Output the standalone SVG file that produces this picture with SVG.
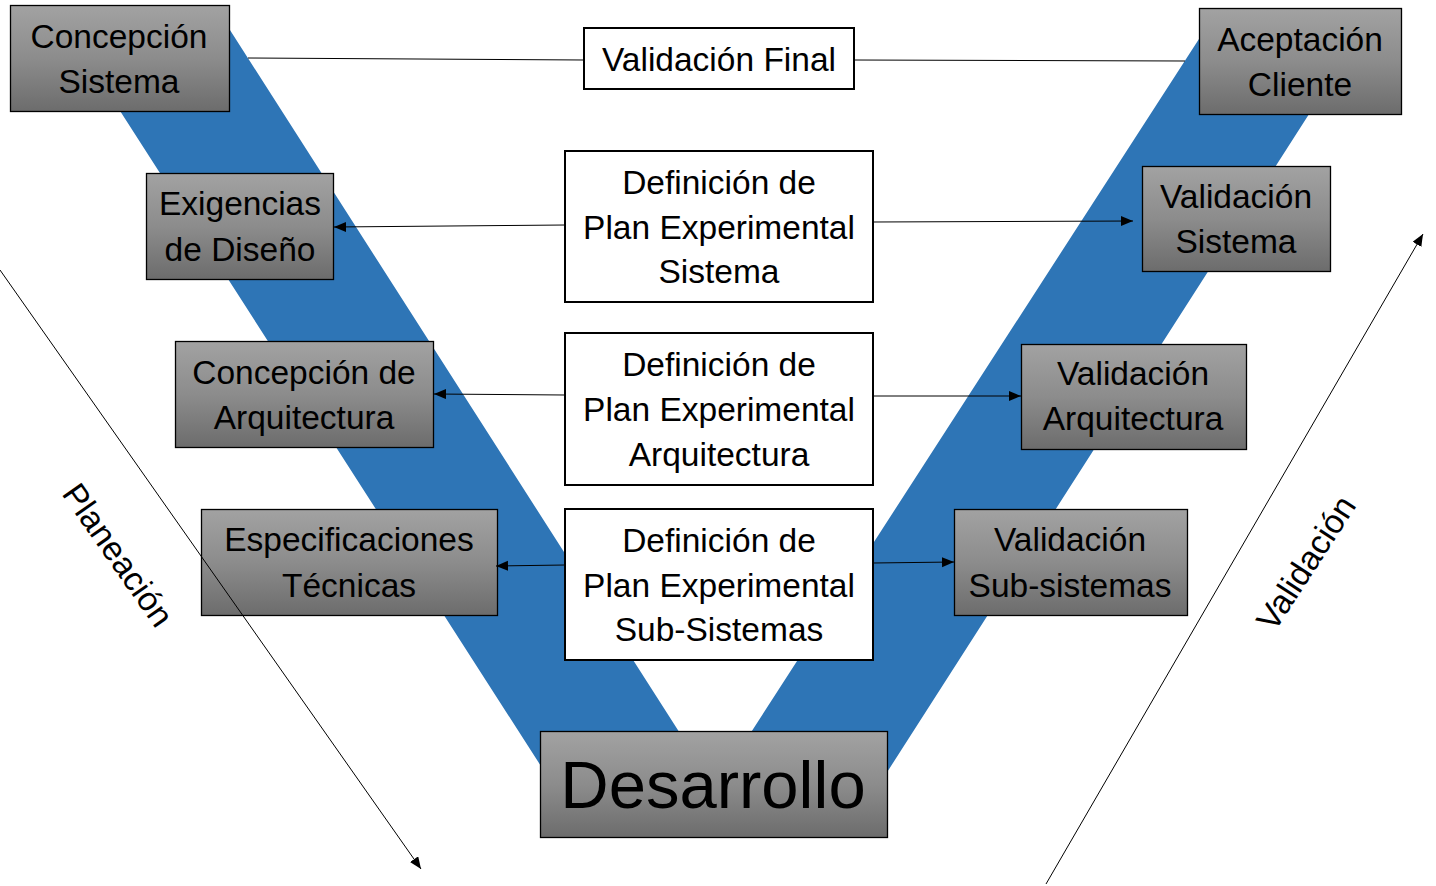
<svg xmlns="http://www.w3.org/2000/svg" width="1436" height="886" viewBox="0 0 1436 886">
<defs>
<linearGradient id="gray" x1="0" y1="0" x2="0" y2="1">
<stop offset="0" stop-color="#a2a2a2"/>
<stop offset="0.5" stop-color="#8c8c8c"/>
<stop offset="1" stop-color="#6c6c6c"/>
</linearGradient>
<marker id="arr" markerUnits="userSpaceOnUse" markerWidth="13" markerHeight="11" refX="12" refY="5" orient="auto">
<path d="M0,0 L12,5 L0,10 z" fill="#000"/>
</marker>
<style>
.g{fill:url(#gray);stroke:#000;stroke-width:1.3}
.w{fill:#fff;stroke:#000;stroke-width:2}
.t{font-family:"Liberation Sans",Arial,sans-serif;font-size:33.5px;fill:#000;text-anchor:middle}
.big{font-family:"Liberation Sans",Arial,sans-serif;font-size:67px;fill:#000;text-anchor:middle}
.ln{stroke:#000;stroke-width:1;fill:none}
.la{stroke:#000;stroke-width:1;fill:none;marker-end:url(#arr)}
</style>
</defs>
<rect width="1436" height="886" fill="#fff"/>
<polygon id="v-band" points="52,5 214,5 715,788 1219,8 1377,8 850,830 582,830" fill="#2e75b6"/>
<g id="n1"><rect class="g" x="10.5" y="5.5" width="219" height="106"/><text class="t" x="119" y="48">Concepción</text><text class="t" x="119" y="93">Sistema</text></g>
<g id="n2"><rect class="g" x="146.5" y="173.5" width="187" height="106"/><text class="t" x="240" y="215">Exigencias</text><text class="t" x="240" y="261">de Diseño</text></g>
<g id="n3"><rect class="g" x="175.5" y="341.5" width="258" height="106"/><text class="t" x="304" y="384">Concepción de</text><text class="t" x="304" y="429">Arquitectura</text></g>
<g id="n4"><rect class="g" x="201.5" y="509.5" width="296" height="106"/><text class="t" x="349" y="551">Especificaciones</text><text class="t" x="349" y="597">Técnicas</text></g>
<g id="n5"><rect class="g" x="540.5" y="731.5" width="347" height="106"/><text class="big" x="713" y="808">Desarrollo</text></g>
<g id="n6"><rect class="w" x="584" y="28" width="270" height="61"/><text class="t" x="719" y="71">Validación Final</text></g>
<g id="n7"><rect class="w" x="565" y="151" width="308" height="151"/><text class="t" x="719" y="194">Definición de</text><text class="t" x="719" y="239">Plan Experimental</text><text class="t" x="719" y="283">Sistema</text></g>
<g id="n8"><rect class="w" x="565" y="333" width="308" height="152"/><text class="t" x="719" y="376">Definición de</text><text class="t" x="719" y="421">Plan Experimental</text><text class="t" x="719" y="466">Arquitectura</text></g>
<g id="n9"><rect class="w" x="565" y="509" width="308" height="151"/><text class="t" x="719" y="552">Definición de</text><text class="t" x="719" y="597">Plan Experimental</text><text class="t" x="719" y="641">Sub-Sistemas</text></g>
<g id="n10"><rect class="g" x="1199.5" y="8.5" width="202" height="106"/><text class="t" x="1300" y="51">Aceptación</text><text class="t" x="1300" y="96">Cliente</text></g>
<g id="n11"><rect class="g" x="1142.5" y="166.5" width="188" height="105"/><text class="t" x="1236" y="208">Validación</text><text class="t" x="1236" y="253">Sistema</text></g>
<g id="n12"><rect class="g" x="1021.5" y="344.5" width="225" height="105"/><text class="t" x="1133" y="385">Validación</text><text class="t" x="1133" y="430">Arquitectura</text></g>
<g id="n13"><rect class="g" x="954.5" y="509.5" width="233" height="106"/><text class="t" x="1070" y="551">Validación</text><text class="t" x="1070" y="597">Sub-sistemas</text></g>
<g id="lbl-planeacion"><text class="t" x="118" y="555" dominant-baseline="central" transform="rotate(55 118 555)">Planeación</text></g>
<g id="lbl-validacion"><text class="t" x="1306" y="563" dominant-baseline="central" transform="rotate(-57 1306 563)">Validación</text></g>
<g id="connectors">
<line class="ln" x1="248" y1="58" x2="584" y2="60"/>
<line class="ln" x1="854" y1="60" x2="1185" y2="61"/>
<line class="la" x1="565" y1="225" x2="334" y2="227"/>
<line class="la" x1="873" y1="222" x2="1133" y2="221"/>
<line class="la" x1="565" y1="395" x2="434" y2="394"/>
<line class="la" x1="873" y1="396" x2="1021" y2="396"/>
<line class="la" x1="565" y1="565" x2="496" y2="566"/>
<line class="la" x1="873" y1="563" x2="954" y2="562"/>
<line class="la" x1="0" y1="270" x2="421" y2="869"/>
<line class="la" x1="1046" y1="884" x2="1423" y2="234"/>
</g>
</svg>
